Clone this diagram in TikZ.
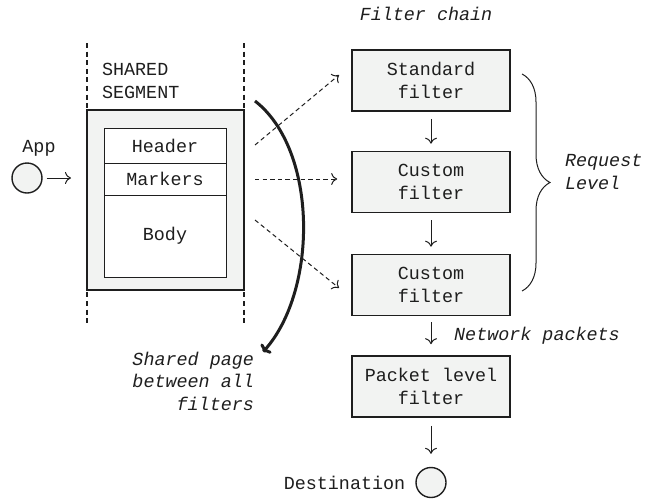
\documentclass[tikz,border=0pt]{standalone}
\usepackage{fontspec}
\setmonofont{Liberation Mono}
\usetikzlibrary{arrows.meta,decorations.pathreplacing}
\definecolor{boxgray}{HTML}{F2F3F2}
\definecolor{ink}{HTML}{1E1E1E}

\begin{document}
\begin{tikzpicture}[x=0.5pt,y=-0.5pt,
	every node/.style={font=\ttfamily\fontsize{9.2}{11.2}\selectfont,text=ink},
	filterbox/.style={draw=ink,line width=0.8pt,fill=boxgray,minimum width=79pt,minimum height=30.5pt,align=center,inner sep=0pt},
	cell/.style={draw=ink,line width=0.5pt,fill=white,minimum width=61pt,inner sep=0pt},
	endpoint/.style={circle,draw=ink,line width=0.7pt,fill=boxgray,minimum size=15pt,inner sep=0pt},
	note/.style={font=\ttfamily\itshape\fontsize{9.2}{11.2}\selectfont},
	flow/.style={draw=ink,line width=0.5pt,-{To[length=3pt,width=6pt]}},
	share/.style={flow,dashed,dash pattern=on 2.2pt off 1.6pt}]

	\useasboundingbox (0,0) rectangle (662,498);

	% shared segment
	\draw[ink,line width=0.7pt,dashed,dash pattern=on 2.5pt off 1.8pt] (87,43) -- (87,325);
	\draw[ink,line width=0.7pt,dashed,dash pattern=on 2.5pt off 1.8pt] (244,43) -- (244,325);
	\node[draw=ink,line width=1pt,fill=boxgray,minimum width=78.5pt,minimum height=90pt,inner sep=0pt] (seg) at (165.5,200) {};
	\node[anchor=west,align=left] (seglbl) at (95,81) {SHARED\\SEGMENT};

	\node[cell,minimum height=17.5pt] (header)  at (165,145.5) {Header};
	\node[cell,minimum height=16pt]   (markers) at (165,179)   {Markers};
	\node[cell,minimum height=41pt]   (body)    at (165,236)   {Body};

	% application side
	\node[endpoint] (app) at (27,178) {};
	\node (applbl) at (39,148) {App};
	\draw[flow,shorten <=2pt,shorten >=7.5pt] (app) -- (app -| seg.west);

	% filter chain
	\node[note] (chain) at (426,14) {Filter chain};
	\node[filterbox] (std)   at (431,80.5)  {Standard\\filter};
	\node[filterbox] (cust1) at (431,182)   {Custom\\filter};
	\node[filterbox] (cust2) at (431,285)   {Custom\\filter};
	\node[filterbox] (pkt)   at (431,386.5) {Packet level\\filter};
	\node[endpoint]  (dest)  at (431,482.5) {};
	\node[left=1.5pt] (destlbl) at (dest.west) {Destination};

	\draw[flow,shorten <=3.5pt,shorten >=3.5pt] (std) -- (cust1);
	\draw[flow,shorten <=3.5pt,shorten >=3.5pt] (cust1) -- (cust2);
	\draw[flow,shorten <=3pt,shorten >=5.5pt] (cust2) -- (pkt)
		node[midway,right=8pt,note] (netlbl) {Network packets};
	\draw[flow,shorten <=4pt,shorten >=6.5pt] (pkt) -- (dest);

	% dashed links from the segment to each request filter
	\coordinate (s1) at (255,145);
	\coordinate (s2) at (255,179);
	\coordinate (s3) at (255,220);
	\coordinate (t1) at (339,75);
	\coordinate (t3) at (339,288);
	\draw[share] (s1) -- (t1);
	\draw[share,shorten >=7pt] (s2) -- (s2 -| std.west);
	\draw[share] (s3) -- (t3);

	% shared page arc
	\coordinate (arcstart) at (255,101);
	\coordinate (arcend) at (263,352);
	\draw[ink,line width=1.5pt,-{To[length=3pt,width=7pt]}] (arcstart) .. controls (318,150) and (318,290) .. (arcend);
	\node[note,align=right,anchor=north east] (sharedlbl) at (261,345) {Shared page\\between all\\filters};

	% request level brace
	\draw[ink,line width=0.5pt,decorate,decoration={brace,amplitude=14pt}] (522,74) -- (522,291);
	\node[note,anchor=west,align=left] (reqlbl) at (558,172) {Request\\Level};

\end{tikzpicture}
\end{document}
